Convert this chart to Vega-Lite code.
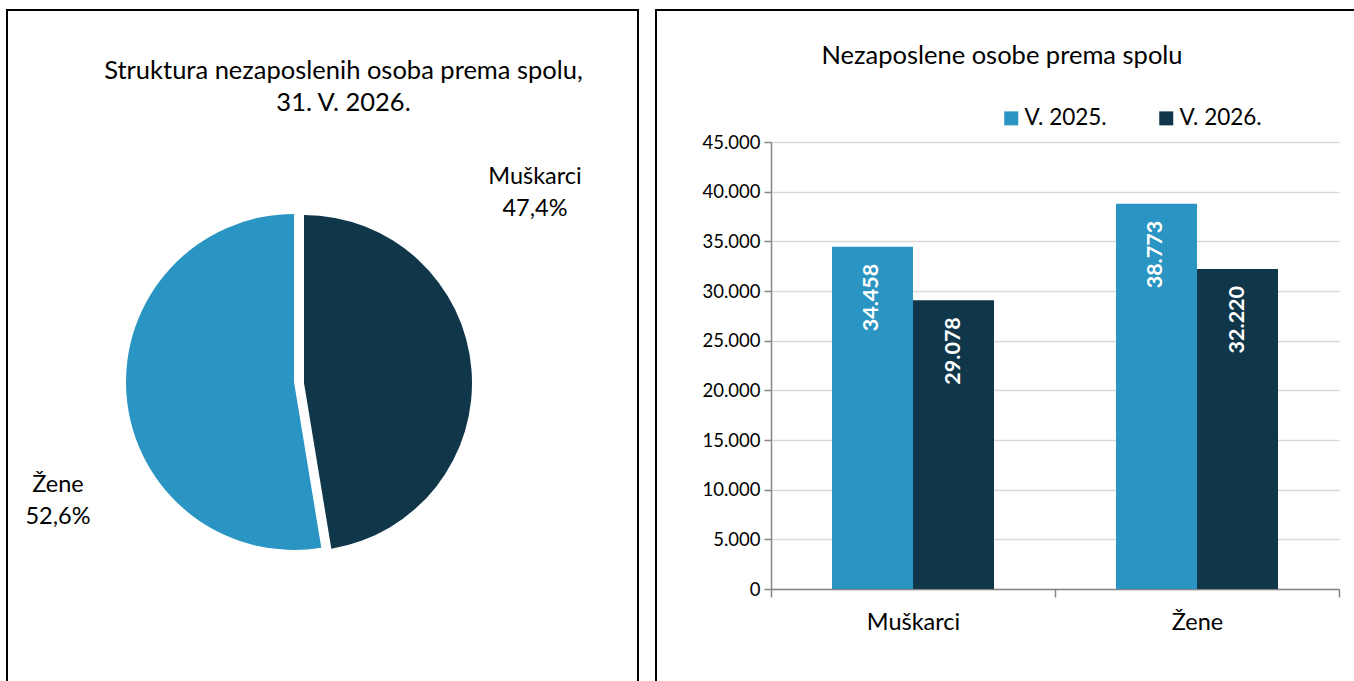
{
  "$schema": "https://vega.github.io/schema/vega-lite/v6.json",
  "padding": {"left": 6, "top": 9, "right": 0, "bottom": 0},
  "background": "white",
  "spacing": 16,
  "resolve": {"scale": {"color": "independent"}, "legend": {"color": "independent"}},
  "datasets": {
    "udio": [
      {"Spol": "Muškarci", "Udio": 47.4, "label": "Muškarci\n47,4%"},
      {"Spol": "Žene", "Udio": 52.6, "label": "Žene\n52,6%"}
    ],
    "broj": [
      {"Spol": "Muškarci", "Godina": "V. 2025.", "Broj": 34458},
      {"Spol": "Muškarci", "Godina": "V. 2026.", "Broj": 29078},
      {"Spol": "Žene", "Godina": "V. 2025.", "Broj": 38773},
      {"Spol": "Žene", "Godina": "V. 2026.", "Broj": 32220}
    ]
  },
  "hconcat": [
    {
      "width": 631,
      "height": 744,
      "view": {"stroke": "#000000", "strokeWidth": 2, "fill": "white"},
      "data": {"name": "udio"},
      "title": {
        "text": ["Struktura nezaposlenih osoba prema spolu,", "31. V. 2026."],
        "anchor": "middle",
        "frame": "group",
        "offset": -106,
        "dx": 21,
        "fontSize": 25.5,
        "fontWeight": "normal",
        "lineHeight": 32,
        "color": "#000000"
      },
      "layer": [
        {
          "mark": {"type": "arc", "radius": 168, "xOffset": -28.5},
          "encoding": {
            "theta": {"field": "Udio", "type": "quantitative", "stack": true},
            "color": {"field": "Spol", "type": "nominal", "scale": {"domain": ["Muškarci", "Žene"], "range": ["#10364a", "#2a95c2"]}, "legend": null},
            "opacity": {"condition": {"test": "datum.Spol === 'Muškarci'", "value": 0}, "value": 1}
          }
        },
        {
          "mark": {"type": "arc", "radius": 168, "xOffset": -18.5, "yOffset": 1},
          "encoding": {
            "theta": {"field": "Udio", "type": "quantitative", "stack": true},
            "color": {"field": "Spol", "type": "nominal", "scale": {"domain": ["Muškarci", "Žene"], "range": ["#10364a", "#2a95c2"]}, "legend": null},
            "opacity": {"condition": {"test": "datum.Spol === 'Žene'", "value": 0}, "value": 1}
          }
        },
        {
          "transform": [{"filter": "datum.Spol === 'Muškarci'"}],
          "mark": {"type": "text", "dx": 212.5, "dy": -205, "fontSize": 23.5, "lineBreak": "\n", "lineHeight": 32, "align": "center", "baseline": "middle", "color": "#000000"},
          "encoding": {"text": {"field": "label", "type": "nominal"}}
        },
        {
          "transform": [{"filter": "datum.Spol === 'Žene'"}],
          "mark": {"type": "text", "dx": -264.5, "dy": 103, "fontSize": 23.5, "lineBreak": "\n", "lineHeight": 32, "align": "center", "baseline": "middle", "color": "#000000"},
          "encoding": {"text": {"field": "label", "type": "nominal"}}
        }
      ]
    },
    {
      "width": 702,
      "height": 744,
      "data": {"name": "broj"},
      "title": {
        "text": "Nezaposlene osobe prema spolu",
        "anchor": "middle",
        "frame": "group",
        "offset": -59,
        "dx": -5,
        "fontSize": 25.5,
        "fontWeight": "normal",
        "color": "#000000"
      },
      "encoding": {
        "x": {
          "field": "Spol", "type": "nominal",
          "scale": {"domain": ["Muškarci", "Žene"], "range": [115, 683], "paddingInner": 0, "paddingOuter": 0},
          "axis": {"title": null, "orient": "bottom", "offset": -165, "tickBand": "extent", "tickSize": 8, "labelPadding": 13, "labelFontSize": 23.5, "labelColor": "#000000", "labelAngle": 0, "domainColor": "#868686", "tickColor": "#868686", "domainWidth": 1.5, "tickWidth": 1.5, "grid": false}
        },
        "xOffset": {"field": "Godina", "type": "nominal", "scale": {"paddingInner": 0, "paddingOuter": 0.753}},
        "y": {
          "field": "Broj", "type": "quantitative",
          "scale": {"domain": [0, 45000], "range": [579, 132], "nice": false},
          "axis": {"title": null, "offset": -115, "values": [0, 5000, 10000, 15000, 20000, 25000, 30000, 35000, 40000, 45000], "format": ",d", "tickSize": 7, "labelPadding": 4, "labelFontSize": 18.5, "labelColor": "#000000", "grid": true, "gridColor": "#d9d9d9", "gridWidth": 1.5, "domainColor": "#868686", "tickColor": "#868686", "domainWidth": 1.5, "tickWidth": 1.5}
        }
      },
      "layer": [
        {
          "mark": {"type": "bar"},
          "encoding": {
            "color": {
              "field": "Godina", "type": "nominal",
              "scale": {"domain": ["V. 2025.", "V. 2026."], "range": ["#2a95c2", "#10364a"]},
              "legend": {"title": null, "orient": "none", "legendX": 344, "legendY": 97, "direction": "horizontal", "columns": 2, "symbolType": "square", "symbolSize": 196, "symbolStrokeWidth": 0, "labelFontSize": 22.5, "labelColor": "#000000", "columnPadding": 48, "labelOffset": 2, "padding": 0}
            }
          }
        },
        {
          "mark": {"type": "text", "angle": 270, "align": "right", "baseline": "middle", "dx": -17, "fontSize": 21.5, "fontWeight": "bold", "color": "#ffffff"},
          "encoding": {"text": {"field": "Broj", "type": "quantitative", "format": ",d"}}
        }
      ]
    }
  ],
  "config": {
    "font": "Lato",
    "view": {"stroke": "#000000", "strokeWidth": 2, "fill": "white"},
    "locale": {"number": {"decimal": ",", "thousands": ".", "grouping": [3], "currency": ["", " €"]}}
  }
}
